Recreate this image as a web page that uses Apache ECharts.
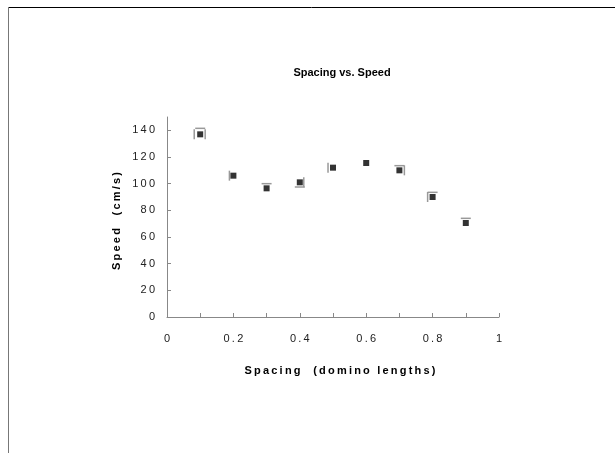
<!DOCTYPE html>
<html><head><meta charset="utf-8">
<script src="https://cdn.jsdelivr.net/npm/echarts@6/dist/echarts.min.js"></script>
<style>html,body{margin:0;padding:0;background:#fff}#c{width:615px;height:453px}</style>
</head><body><div id="c"></div>
<script>
const spacing = [0.1, 0.2, 0.3, 0.4, 0.5, 0.6, 0.7, 0.8, 0.9];
const speed = [137, 106, 96.5, 101, 112, 115.5, 110, 90, 70.5];
const errUp = [4.5, 0, 3.5, 0, 0, 0, 3.5, 3.5, 3.5];
const errDown = [0, 0, 0, 3.5, 0, 0, 0, 0, 0];
const errLeft = [0.018, 0.012, 0, 0, 0.015, 0, 0, 0.015, 0];
const errRight = [0.015, 0, 0, 0.012, 0, 0, 0.015, 0, 0];
const xTicks = [0, 0.2, 0.4, 0.6, 0.8, 1];
const yTicks = [0, 20, 40, 60, 80, 100, 120, 140];
const titleText = 'Spacing vs. Speed';
const xName = 'Spacing  (domino lengths)';
const yName = 'Speed  (cm/s)';

const pts = spacing.map((x, i) => [x, speed[i], errUp[i], errDown[i], errLeft[i], errRight[i]]);
const chart = echarts.init(document.getElementById('c'), null, {renderer: 'canvas'});
const font = 'Liberation Sans, Arial, sans-serif';
const spaced = s => String(s).split('').join('\u2009');
chart.setOption({
  animation: false,
  title: {text: titleText, left: 337, top: 62, textAlign: 'center',
    textStyle: {fontFamily: font, fontSize: 11, fontWeight: 'bold', color: '#000'}},
  grid: {left: 167, right: 116, top: 117, bottom: 136},
  graphic: [
    {type: 'line', shape: {x1: 8, y1: 7.5, x2: 615, y2: 7.5}, style: {stroke: '#000', lineWidth: 1}},
    {type: 'line', shape: {x1: 8.5, y1: 7, x2: 8.5, y2: 453}, style: {stroke: '#777', lineWidth: 1}},
    {type: 'text', x: 340, y: 371, style: {text: spaced(xName), font: 'bold 11px ' + font, fill: '#000', textAlign: 'center', textVerticalAlign: 'middle'}},
    {type: 'text', x: 117, y: 221, rotation: Math.PI / 2, style: {text: spaced(yName), font: 'bold 11px ' + font, fill: '#000', textAlign: 'center', textVerticalAlign: 'middle'}}
  ],
  xAxis: {type: 'value', min: 0, max: 1, interval: 0.1,
    axisLine: {lineStyle: {color: '#888'}},
    axisTick: {inside: true, length: 4, lineStyle: {color: '#888'}},
    splitLine: {show: false},
    axisLabel: {margin: 16, fontFamily: font, fontSize: 11, color: '#222',
      formatter: v => { const r = Math.round(v * 10) / 10; return xTicks.some(t => Math.abs(t - r) < 1e-9) ? spaced(r) : ''; }}},
  yAxis: {type: 'value', min: 0, max: 150, interval: 20,
    axisLine: {show: true, lineStyle: {color: '#888'}},
    axisTick: {show: true, inside: true, length: 4, lineStyle: {color: '#888'}},
    splitLine: {show: false},
    axisLabel: {margin: 12, showMaxLabel: false, fontFamily: font, fontSize: 11, color: '#222',
      formatter: v => yTicks.includes(Math.round(v)) ? spaced(Math.round(v)) : ''}},
  series: [
    {type: 'custom', data: pts, z: 1,
      renderItem: (params, api) => {
        const x = api.value(0), y = api.value(1);
        const c = api.coord([x, y]);
        const ch = [];
        const L = 5;
        const up = api.value(2), dn = api.value(3), lf = api.value(4), rt = api.value(5);
        const st = {stroke: '#999', lineWidth: 1.5};
        if (up) { const p = api.coord([x, y + up]); ch.push({type: 'line', shape: {x1: c[0] - L, y1: p[1], x2: c[0] + L, y2: p[1]}, style: st}); }
        if (dn) { const p = api.coord([x, y - dn]); ch.push({type: 'line', shape: {x1: c[0] - L, y1: p[1], x2: c[0] + L, y2: p[1]}, style: st}); }
        if (lf) { const p = api.coord([x - lf, y]); ch.push({type: 'line', shape: {x1: p[0], y1: c[1] - L, x2: p[0], y2: c[1] + L}, style: st}); }
        if (rt) { const p = api.coord([x + rt, y]); ch.push({type: 'line', shape: {x1: p[0], y1: c[1] - L, x2: p[0], y2: c[1] + L}, style: st}); }
        return {type: 'group', children: ch};
      }},
    {type: 'scatter', data: pts.map(p => [p[0], p[1]]), symbol: 'rect', symbolSize: 6, z: 3,
      itemStyle: {color: '#000'}}
  ]
});
</script></body></html>
